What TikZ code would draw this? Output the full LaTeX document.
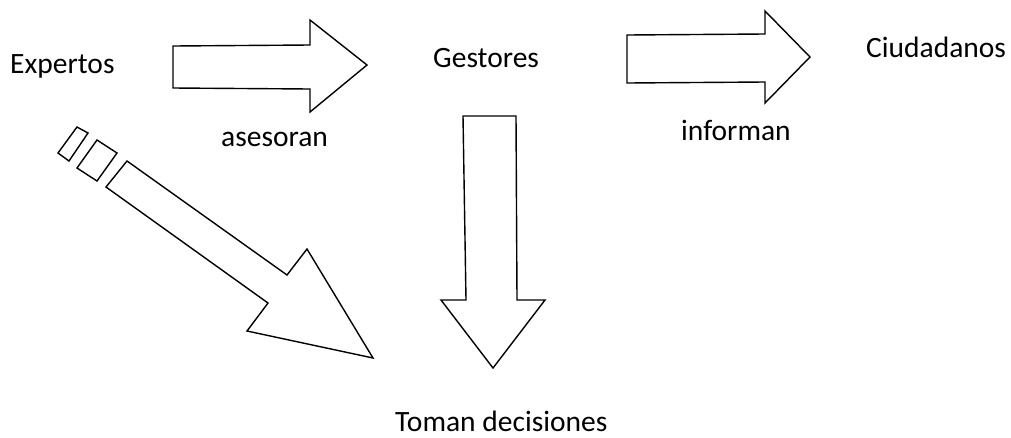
\documentclass[tikz,border=0pt]{standalone}
\usepackage{fontspec}
\setmainfont{Carlito}
\begin{document}
\begin{tikzpicture}[x=1pt,y=-1pt,
  lbl/.style={anchor=base west,inner sep=0pt,font=\fontsize{29.5}{32}\selectfont},
  blockarrow/.style={draw=black,line width=1.4pt,line join=miter,fill=white}]
\useasboundingbox (0,0) rectangle (1011,437);

% labels
\node[lbl] (expertos)   at (10,73)   {Expertos};
\node[lbl] (gestores)   at (433,67)  {Gestores};
\node[lbl] (ciudadanos) at (866,57)  {Ciudadanos};
\node[lbl] (asesoran)   at (221,146) {asesoran};
\node[lbl] (informan)   at (681,140) {informan};
\node[lbl] (decisiones) at (395,431) {Toman decisiones};

% block arrow: expertos -> gestores
\draw[blockarrow] (173,46) -- (310,45) -- (310,20) -- (367,65) -- (310,112)
  -- (310,89) -- (173,88) -- cycle;

% block arrow: gestores -> ciudadanos
\draw[blockarrow] (627,35) -- (765,34) -- (765,11) -- (810,57) -- (765,103)
  -- (765,82) -- (627,83) -- cycle;

% block arrow: gestores -> decisions
\draw[blockarrow] (463,116) -- (516,116) -- (517,300) -- (545,300) -- (493,368)
  -- (441,300) -- (466,300) -- cycle;

% dashed-tail block arrow: expertos -> decisions
\draw[blockarrow] (127,161) -- (287,275) -- (307,249) -- (373,358) -- (247,331)
  -- (268,303) -- (106,187) -- cycle;
\draw[blockarrow] (97,140) -- (117,153) -- (97,181) -- (77,168) -- cycle;
\draw[blockarrow] (77,127) -- (88,133) -- (69,161) -- (58,153) -- cycle;
\end{tikzpicture}
\end{document}
